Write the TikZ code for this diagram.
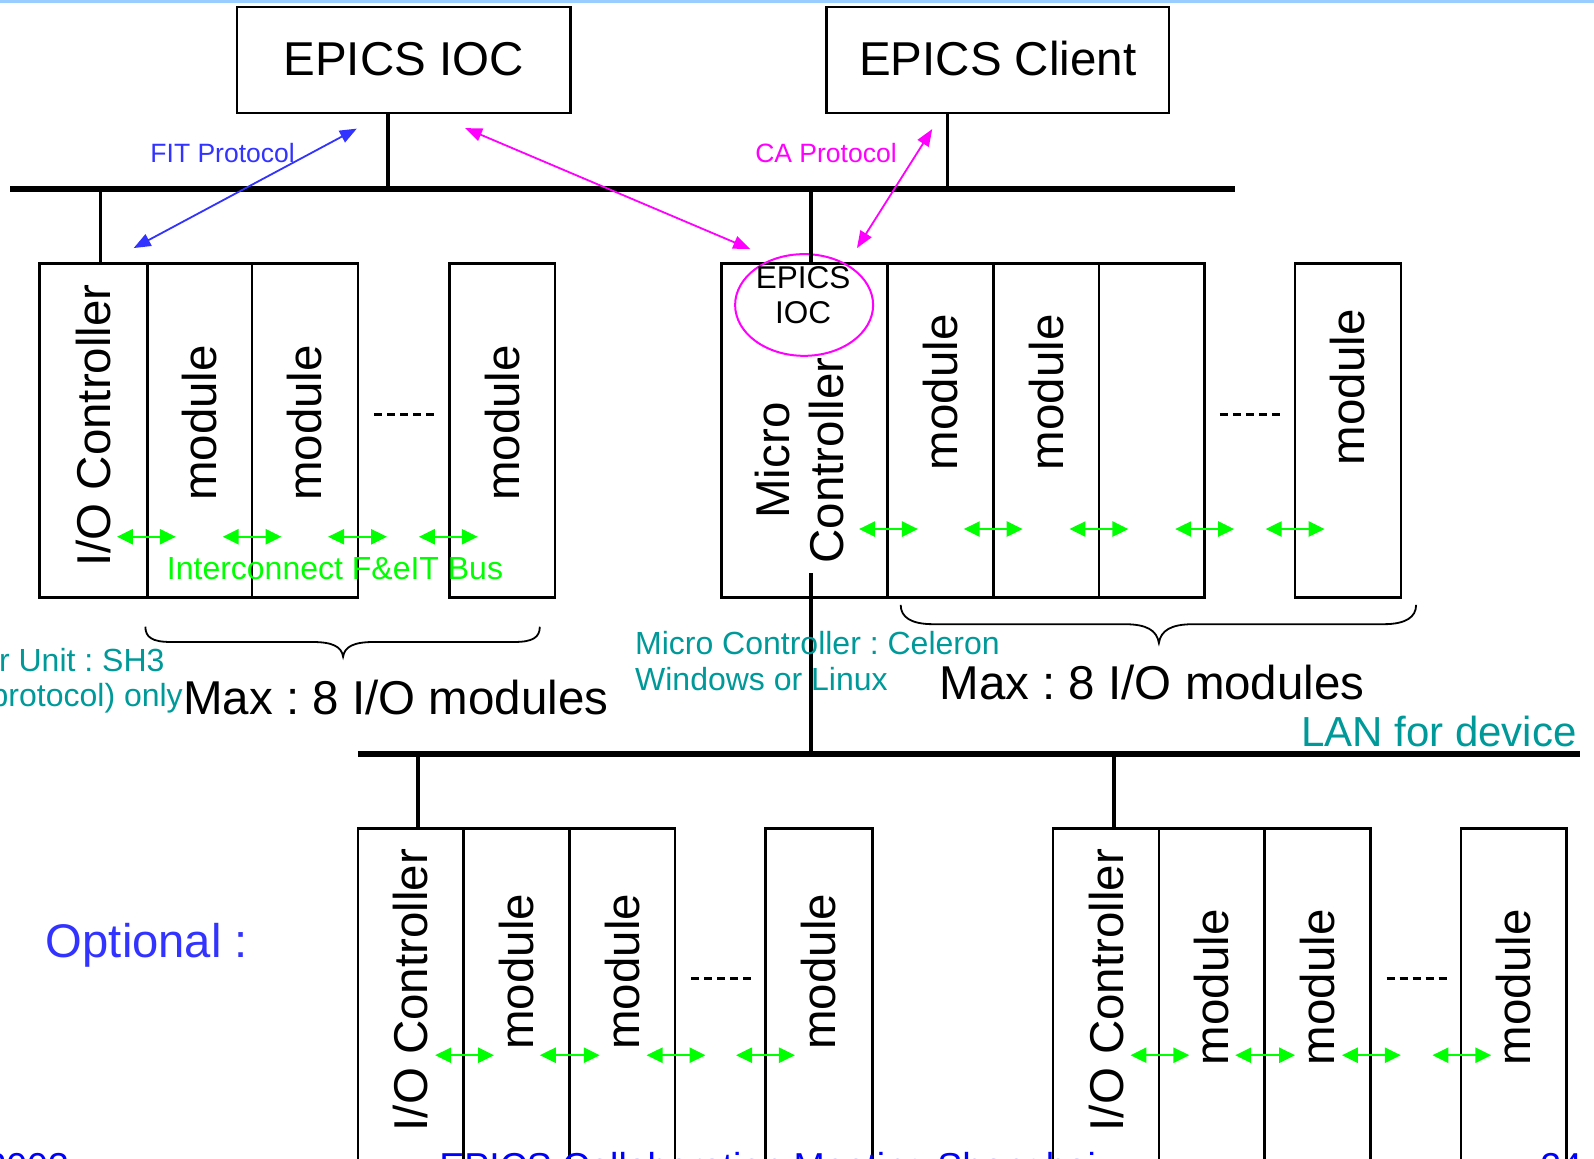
\documentclass[tikz,border=0pt]{standalone}
\usepackage{fontspec}
\setmainfont{Liberation Sans}
\usetikzlibrary{arrows.meta,shapes.geometric}
\definecolor{noteteal}{RGB}{0,153,153}
\definecolor{fitblue}{RGB}{51,51,255}
\definecolor{camagenta}{RGB}{255,0,255}
\definecolor{busgreen}{RGB}{0,255,0}
\definecolor{topband}{RGB}{153,204,255}
\definecolor{footblue}{RGB}{0,0,255}

\newcommand\fsz[1]{\fontsize{#1}{#1}\selectfont}
% rectangular card given by name, left, top, right, bottom
\newcommand\card[5]{\node[card, minimum width={(#4-#2)*1.0166pt},
  minimum height={(#5-#3)*1.0166pt}] (#1) at ({(#2+#4)/2},{(#3+#5)/2}) {};}

\begin{document}
\frenchspacing
\begin{tikzpicture}[x=1.0166pt,y=-1.0166pt,
  card/.style={draw, line width=2.6pt, inner sep=0pt, outer sep=0pt},
  bus/.style={line width=6pt},
  stub/.style={line width=3.5pt},
  vtext/.style={rotate=90, inner sep=0pt, font=\fsz{47.5}},
  big/.style={inner sep=0pt, font=\fsz{47.5}},
  dots/.style={line width=3pt, dash pattern=on 8pt off 5pt},
  fbus/.style={busgreen, line width=2.5pt,
    {Triangle[length=16pt,width=15pt]}-{Triangle[length=16pt,width=15pt]}},
  proto/.style={line width=1.8pt,
    {Triangle[length=17pt,width=13pt]}-{Triangle[length=17pt,width=13pt]}},
  brace/.style={line width=1.8pt},
  note/.style={inner sep=0pt, text=noteteal, font=\fsz{32}},
]
\path[use as bounding box] (0,0) rectangle (1568,1140);
\clip (0,0) rectangle (1568,1140);
\fill[white] (0,0) rectangle (1568,1140);
\fill[topband] (0,0) rectangle (1568,3);

% hosts on the control network
\card{ioc}{233}{7}{561}{111}
\card{client}{813}{7}{1150}{111}
\node[big, anchor=base] (iocname) at (397,74) {EPICS IOC};
\node[big, anchor=base] (clientname) at (981.5,74) {EPICS Client};

% upper-left rack
\card{ioA}{39}{259}{145}{588}
\card{mA1}{145}{259}{248}{588}
\card{mA2}{248}{259}{352}{588}
\card{mA3}{442}{259}{546}{588}
\node[vtext] (ioAt) at (92,418.5) {I/O Controller};
\node[vtext] (mA1t) at (196.5,416) {module};
\node[vtext] (mA2t) at (300,416) {module};
\node[vtext] (mA3t) at (494,416) {module};

% micro controller rack
\card{mc}{710}{259}{873}{588}
\card{mB1}{873}{259}{977}{588}
\card{mB2}{977}{259}{1081}{588}
\card{mB3}{1081}{259}{1185}{588}
\card{mB4}{1274}{259}{1378}{588}
\node[vtext] (mct1) at (760,453) {Micro};
\node[vtext] (mct2) at (813,453) {Controller};
\node[vtext] (mB1t) at (925,386) {module};
\node[vtext] (mB2t) at (1029,386) {module};
\node[vtext] (mB4t) at (1326,381) {module};
\node[draw=camagenta, line width=2pt, ellipse, minimum width=138pt,
  minimum height=101.7pt, inner sep=0pt] (ring) at (791,300) {};
\node[inner sep=0pt, font=\fsz{31.5}, anchor=base] (ringA) at (790,283.5) {EPICS};
\node[inner sep=0pt, font=\fsz{31.5}, anchor=base] (ringB) at (790,318) {IOC};

% optional racks on the device LAN
\card{ioC}{352}{815}{456}{1160}
\card{mC1}{456}{815}{560}{1160}
\card{mC2}{560}{815}{664}{1160}
\card{mC3}{753}{815}{858}{1160}
\card{ioD}{1036}{815}{1140}{1160}
\card{mD1}{1140}{815}{1244}{1160}
\card{mD2}{1244}{815}{1348}{1160}
\card{mD3}{1437}{815}{1541}{1160}
\node[vtext] (ioCt) at (404,974) {I/O Controller};
\node[vtext] (mC1t) at (508,956) {module};
\node[vtext] (mC2t) at (612,956) {module};
\node[vtext] (mC3t) at (805.5,956) {module};
\node[vtext] (ioDt) at (1088,974) {I/O Controller};
\node[vtext] (mD1t) at (1192,971) {module};
\node[vtext] (mD2t) at (1296,971) {module};
\node[vtext] (mD3t) at (1489,971) {module};

% elided slots
\draw[dots] (368,408) -- (428,408);
\draw[dots] (1200,408) -- (1260,408);
\draw[dots] (680,963) -- (740,963);
\draw[dots] (1364,963) -- (1424,963);

% networks and drops
\coordinate (b1w) at (10,186);
\coordinate (b1e) at (1215,186);
\coordinate (b2w) at (352,741.5);
\coordinate (b2e) at (1554,741.5);
\coordinate (sIoc) at (381.5,186);
\coordinate (sCl) at (932,186);
\coordinate (sA) at (99,186);
\coordinate (sB) at (798,186);
\coordinate (sBl) at (798,564);
\coordinate (sC) at (411,741.5);
\coordinate (sD) at (1096,741.5);
\draw[stub] (sIoc) -- (sIoc |- ioc.south);
\draw[stub] (sCl) -- (sCl |- client.south);
\draw[stub] (sA) -- (sA |- ioA.north);
\draw[stub] (sB) -- (sB |- mc.north);
\draw[stub] (sBl) -- (sBl |- b2w);
\draw[stub] (sC) -- (sC |- ioC.north);
\draw[stub] (sD) -- (sD |- ioD.north);
\draw[bus] (b1w) -- (b1e);
\draw[bus] (b2w) -- (b2e);

% protocol paths
\coordinate (fitTop) at (351,126.5);
\coordinate (fitBot) at (131.5,244);
\coordinate (caTopA) at (457.5,126);
\coordinate (caBotA) at (738,245);
\coordinate (caTopB) at (917,127);
\coordinate (caBotB) at (843,244);
\draw[proto, fitblue] (fitBot) -- (fitTop);
\draw[proto, camagenta] (caTopA) -- (caBotA);
\draw[proto, camagenta] (caTopB) -- (caBotB);
\node[inner sep=0pt, anchor=base, text=fitblue, font=\fsz{26.5}] (fitlabel) at (219,159.6) {FIT Protocol};
\node[inner sep=0pt, anchor=base, text=camagenta, font=\fsz{26.5}] (calabel) at (812.5,159.6) {CA Protocol};

% backplane links between slots
\foreach \a/\b/\y [count=\i] in {115/173/528, 219/277/528, 322.7/380.7/528, 412/470/528,
    845/903/520.4, 948/1006/520.4, 1052/1110/520.4, 1156/1214/520.4, 1245/1303/520.4,
    428/486/1038, 531/590/1038, 636/694/1038, 724/782/1038,
    1112/1170/1038, 1215/1274/1038, 1320/1378/1038, 1409/1467/1038}{
  \coordinate (gl\i) at (\a,\y);
  \coordinate (gr\i) at (\b,\y);
  \draw[fbus] (gl\i) -- (gr\i);
}
\node[inner sep=0pt, anchor=base west, text=busgreen, font=\fsz{32}] (fbuslabel) at (164,570.5) {Interconnect F\&eIT Bus};

% braces under the module slots
\draw[brace] (143,616.5) .. controls (143,627) and (150,631.5) .. (168,631.5)
  -- (307,631.5) .. controls (327,631.5) and (336,636) .. (337.5,646)
  .. controls (339,636) and (348,631.5) .. (368,631.5)
  -- (506,631.5) .. controls (524,631.5) and (531,627) .. (531,616.5);
\draw[brace] (886,595) .. controls (886,607) and (896,614) .. (918,614)
  -- (1106,614) .. controls (1128,614) and (1138,620) .. (1140,632.5)
  .. controls (1142,620) and (1152,614) .. (1174,614)
  -- (1361,614) .. controls (1383,614) and (1393,607) .. (1393,595);

% notes
\node[note, anchor=base east] (cpuA) at (162,661) {r Unit : SH3};
\node[note, anchor=base east] (cpuB) at (180,695) {protocol) only};
\node[big, anchor=base west] (maxA) at (180,703) {Max : 8 I/O modules};
\node[note, anchor=base west] (mcA) at (624.6,644) {Micro Controller : Celeron};
\node[note, anchor=base west] (mcB) at (624.6,679.5) {Windows or Linux};
\node[big, anchor=base west] (maxB) at (924,688.5) {Max : 8 I/O modules};
\node[inner sep=0pt, anchor=base east, text=noteteal, font=\fsz{42}] (lan) at (1551,734.5) {LAN for device};
\node[inner sep=0pt, anchor=base west, text=fitblue, font=\fsz{47.2}] (opt) at (45,942) {Optional :};

% footer line
\node[inner sep=0pt, anchor=base east, text=footblue, font=\fsz{37.5}] (foot1) at (68,1160.5) {2003};
\node[inner sep=0pt, anchor=base west, text=footblue, font=\fsz{37.5}] (foot2) at (432,1160.5) {EPICS Collaboration Meeting Shanghai};
\node[inner sep=0pt, anchor=base west, text=footblue, font=\fsz{37.5}] (foot3) at (1515,1160.5) {24};
\end{tikzpicture}
\end{document}
